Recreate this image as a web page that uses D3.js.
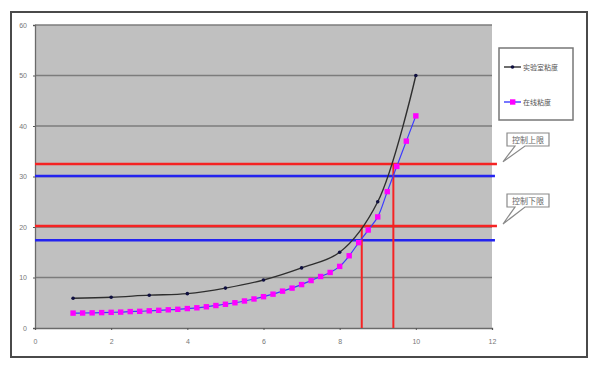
<!DOCTYPE html>
<html>
<head>
<meta charset="utf-8">
<script src="https://cdn.jsdelivr.net/npm/d3@7"></script>
<style>
    html, body { margin: 0; padding: 0; background: #fff; }
</style>
</head>
<body>
<div id="chart"></div>
<script>
// lab viscosity, sampled once per unit
const labX = [1, 2, 3, 4, 5, 6, 7, 8, 9, 10];
const labVisc = [5.9, 6.1, 6.5, 6.8, 7.9, 9.5, 11.9, 15.0, 25.0, 50.0];

// online viscosity, sampled every quarter unit
const onlineX = [1, 1.25, 1.5, 1.75, 2, 2.25, 2.5, 2.75, 3, 3.25, 3.5, 3.75, 4, 4.25, 4.5, 4.75,
    5, 5.25, 5.5, 5.75, 6, 6.25, 6.5, 6.75, 7, 7.25, 7.5, 7.75, 8, 8.25, 8.5, 8.75, 9, 9.25, 9.5, 9.75, 10];
const onlineVisc = [2.95, 2.97, 3.0, 3.05, 3.1, 3.15, 3.25, 3.3, 3.4, 3.5, 3.6, 3.7, 3.85, 4.0, 4.2, 4.45,
    4.7, 5.0, 5.35, 5.75, 6.2, 6.7, 7.3, 7.9, 8.6, 9.4, 10.2, 11.0, 12.2, 14.3, 16.9, 19.4, 22.0, 27.0, 32.0, 37.0, 42.0];

// control limits: [upper, lower]
const labLimits = [32.5, 20.2];
const onlineLimits = [30.1, 17.4];
const limitSpan = [0, 12.13];
const limitLabels = ['控制上限', '控制下限'];

// drop lines where the lab curve meets the limits
const dropX = [8.58, 9.41];
const dropY = [20.2, 32.5];

const seriesNames = ['实验室粘度', '在线粘度'];
const xTicks = [0, 2, 4, 6, 8, 10, 12];
const yTicks = [0, 10, 20, 30, 40, 50, 60];

var w = 599,
    h = 367;

var svg = d3.select('#chart')
    .append('svg')
    .attr('width', w)
    .attr('height', h)
    .style('font-family', 'Liberation Sans, Arial, sans-serif');

svg.append('rect')
    .attr('width', w)
    .attr('height', h)
    .style('fill', '#fff');

// outer frame
svg.append('rect')
    .attr('x', 11)
    .attr('y', 12)
    .attr('width', 576)
    .attr('height', 345)
    .style('fill', '#fff')
    .style('stroke', '#4a4a4a')
    .style('stroke-width', '2px');

const x = d3.scaleLinear().domain([0, 12]).range([35, 492]);
const y = d3.scaleLinear().domain([0, 60]).range([328, 25]);

svg.append('rect')
    .attr('x', x(0))
    .attr('y', y(60))
    .attr('width', x(12) - x(0))
    .attr('height', y(0) - y(60))
    .style('fill', '#c0c0c0');

// gridlines
svg.append('g')
    .selectAll('line')
    .data(yTicks.filter(d => d > 0))
    .join('line')
    .attr('x1', x(0))
    .attr('x2', x(12))
    .attr('y1', d => y(d))
    .attr('y2', d => y(d))
    .style('stroke', '#7c7c7c')
    .style('stroke-width', '1.3px');

var yAxis = svg.append('g')
    .attr('transform', `translate(${x(0)},0)`)
    .call(d3.axisLeft(y).tickValues(yTicks).tickSize(2).tickPadding(6));

var xAxis = svg.append('g')
    .attr('transform', `translate(0,${y(0)})`)
    .call(d3.axisBottom(x).tickValues(xTicks).tickSize(2).tickPadding(9));

[yAxis, xAxis].forEach(a => {
    a.select('.domain').style('stroke', '#6a6a6a').style('stroke-width', '1.3px');
    a.selectAll('.tick line').style('stroke', '#555');
    a.selectAll('.tick text').style('fill', '#777').style('font-size', '7px');
});

// control limit lines
labLimits.forEach(v => {
    svg.append('line')
        .attr('x1', x(limitSpan[0]))
        .attr('x2', x(limitSpan[1]))
        .attr('y1', y(v))
        .attr('y2', y(v))
        .style('stroke', '#f52323')
        .style('stroke-width', '2.5px');
});
onlineLimits.forEach(v => {
    svg.append('line')
        .attr('x1', x(limitSpan[0]))
        .attr('x2', x(limitSpan[1]) - 2)
        .attr('y1', y(v))
        .attr('y2', y(v))
        .style('stroke', '#2323f0')
        .style('stroke-width', '2.5px');
});

dropX.forEach((d, i) => {
    svg.append('line')
        .attr('x1', x(d))
        .attr('x2', x(d))
        .attr('y1', y(dropY[i]))
        .attr('y2', y(0))
        .style('stroke', '#f52323')
        .style('stroke-width', '2px');
});

const line = d3.line()
    .x(d => x(d[0]))
    .y(d => y(d[1]))
    .curve(d3.curveCatmullRom.alpha(0.5));

const labPts = labX.map((d, i) => [d, labVisc[i]]);
const onlinePts = onlineX.map((d, i) => [d, onlineVisc[i]]);

svg.append('path')
    .datum(onlinePts)
    .attr('d', line)
    .style('fill', 'none')
    .style('stroke', '#3b3bff')
    .style('stroke-width', '1.2px');

svg.append('g')
    .selectAll('rect')
    .data(onlinePts)
    .join('rect')
    .attr('x', d => x(d[0]) - 2.7)
    .attr('y', d => y(d[1]) - 2.7)
    .attr('width', 5.4)
    .attr('height', 5.4)
    .style('fill', '#ff00ff');

svg.append('path')
    .datum(labPts)
    .attr('d', line)
    .style('fill', 'none')
    .style('stroke', '#2e2e2e')
    .style('stroke-width', '1.4px');

svg.append('g')
    .selectAll('circle')
    .data(labPts)
    .join('circle')
    .attr('cx', d => x(d[0]))
    .attr('cy', d => y(d[1]))
    .attr('r', 1.8)
    .style('fill', '#101040');

// legend
var legend = svg.append('g');

legend.append('rect')
    .attr('x', 499)
    .attr('y', 48)
    .attr('width', 74)
    .attr('height', 72)
    .style('fill', '#fff')
    .style('stroke', '#777')
    .style('stroke-width', '1.5px');

const legendY = [67, 102];
const legendStroke = ['#2e2e2e', '#3b3bff'];

seriesNames.forEach((name, i) => {
    legend.append('line')
        .attr('x1', 504)
        .attr('x2', 521)
        .attr('y1', legendY[i])
        .attr('y2', legendY[i])
        .style('stroke', legendStroke[i])
        .style('stroke-width', '1.4px');

    if (i === 0) {
        legend.append('circle')
            .attr('cx', 512.5)
            .attr('cy', legendY[i])
            .attr('r', 1.8)
            .style('fill', '#101040');
    } else {
        legend.append('rect')
            .attr('x', 510)
            .attr('y', legendY[i] - 2.7)
            .attr('width', 5.4)
            .attr('height', 5.4)
            .style('fill', '#ff00ff');
    }

    legend.append('text')
        .attr('x', 523)
        .attr('y', legendY[i] + 3)
        .style('font-family', 'Noto Sans CJK SC')
        .style('font-size', '7px')
        .style('fill', '#555')
        .text(name);
});

// callouts for the limit lines
const calloutTop = [133, 194];

limitLabels.forEach((label, i) => {
    const bx = 507, by = calloutTop[i], bw = 42, bh = 13;
    const tipX = 503, tipY = y(labLimits[i]) - 2;

    svg.append('path')
        .attr('d', `M${bx},${by} H${bx + bw} V${by + bh} H${bx + 18} L${tipX},${tipY} L${bx + 8},${by + bh} H${bx} Z`)
        .style('fill', '#fff')
        .style('stroke', '#8a8a8a')
        .style('stroke-width', '1.2px');

    svg.append('text')
        .attr('x', bx + bw / 2)
        .attr('y', by + bh / 2 + 3)
        .attr('text-anchor', 'middle')
        .style('font-family', 'Noto Sans CJK SC')
        .style('font-size', '8px')
        .style('fill', '#666')
        .text(label);
});
</script>
</body>
</html>
